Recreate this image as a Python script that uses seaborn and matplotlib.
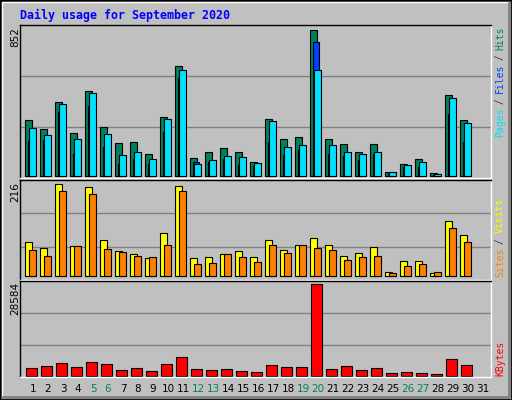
import numpy as np
import seaborn as sns
import matplotlib
matplotlib.use('Agg')
import matplotlib.pyplot as plt
from matplotlib.patches import Rectangle
from matplotlib.lines import Line2D

days = list(range(1, 32))
weekend = [5, 6, 12, 13, 19, 20, 26, 27]

hits = [327, 275, 432, 250, 494, 285, 192, 198, 128, 343, 639, 105, 139, 163, 139, 81,
        331, 215, 226, 852, 215, 186, 139, 186, 23, 70, 99, 17, 470, 327, 0]
files = [205, 211, 374, 130, 409, 170, 72, 101, 72, 259, 569, 81, 81, 101, 66, 60,
         199, 124, 153, 778, 130, 118, 95, 130, 19, 54, 54, 8, 362, 199, 0]
pages = [279, 238, 418, 215, 482, 244, 122, 139, 99, 331, 616, 70, 93, 116, 110, 75,
         319, 168, 180, 616, 180, 139, 128, 139, 23, 64, 81, 12, 453, 308, 0]
visits = [80, 66, 217, 71, 210, 85, 59, 52, 42, 101, 214, 42, 45, 52, 59, 45,
          85, 61, 75, 90, 73, 47, 54, 68, 9, 35, 35, 7, 130, 97, 0]
sites = [61, 49, 200, 71, 193, 64, 57, 47, 45, 75, 200, 28, 31, 52, 45, 33,
         73, 54, 75, 66, 61, 38, 45, 49, 7, 24, 28, 9, 115, 80, 0]
kbytes = [2295, 2920, 3860, 2608, 4172, 3546, 1669, 2295, 1356, 3546, 5736, 1982, 1669,
          1982, 1356, 1043, 3233, 2608, 2608, 28584, 1982, 2920, 1669, 2295, 730, 1043,
          730, 417, 5111, 3233, 0]

GRAY = '#C0C0C0'
sns.set_style('white')
plt.rcParams['font.family'] = ['DejaVu Sans']

W, H = 512, 400
fig = plt.figure(figsize=(5.12, 4.0), dpi=100, facecolor=GRAY)
x = np.array(days)


def px_axes(top, bottom):
    return fig.add_axes([20 / W, 1 - bottom / H, 471 / W, (bottom - top) / H])


def bars(ax, offset, vals, width, color):
    v = np.array(vals)
    m = v > 0
    ax.bar(x[m] + offset, v[m], width=width, color=color, edgecolor='black', linewidth=0.8)


def style(ax, ylo, yhi, label, label_y):
    ax.set_facecolor(GRAY)
    ax.set_xlim(0.13, 31.53)
    ax.set_ylim(ylo, yhi)
    ax.set_yticks([])
    ax.set_xticks([])
    for f in (1 / 3, 2 / 3):
        ax.plot([0, 1], [f, f], transform=ax.transAxes, color='#808080', lw=1, zorder=0)
    for s in ('top', 'left'):
        ax.spines[s].set_color('black')
    for s in ('bottom', 'right'):
        ax.spines[s].set_color('white')
    for s in ax.spines.values():
        s.set_linewidth(1)
    fig.text(15 / W, 1 - label_y / H, label, rotation=90, ha='center', va='top',
             fontsize=7.5, color='black')


def side_label(parts, bottom_y):
    y = bottom_y
    for txt, col in parts:
        fig.text(500 / W, 1 - y / H, txt, rotation=90, ha='center', va='bottom',
                 fontsize=7.0, family='DejaVu Sans Mono', color=col)
        y -= 5.45 * len(txt)


# pages / files / hits
ax1 = px_axes(25, 178)
bars(ax1, -0.28, hits, 0.46, '#00805C')
bars(ax1, -0.14, files, 0.46, '#0040FF')
bars(ax1, -0.01, pages, 0.46, '#00E0FF')
style(ax1, -11.6, 879, '852', 27)
side_label([('Pages', '#00E0FF'), (' / ', '#404040'), ('Files', '#0040FF'),
            (' / ', '#404040'), ('Hits', '#00805C')], 137)

# sites / visits
ax2 = px_axes(180, 280)
bars(ax2, -0.28, visits, 0.46, '#FFFF00')
bars(ax2, -0.01, sites, 0.46, '#FF8000')
style(ax2, -8.7, 227.1, '216', 182)
side_label([('Sites', '#FF8000'), (' / ', '#404040'), ('Visits', '#FFFF00')], 277)

# kbytes
ax3 = px_axes(281, 377)
bars(ax3, -0.1, kbytes, 0.7, '#FF0000')
style(ax3, -407, 29616, '28584', 282)
side_label([('KBytes', '#FF0000')], 376)

for d in days:
    ax3.text(d, -0.12, str(d), transform=ax3.get_xaxis_transform(), ha='center', va='center',
             fontsize=7.5, color='#00805C' if d in weekend else 'black')

fig.text(20 / W, 1 - 15 / H, 'Daily usage for September 2020', ha='left', va='center',
         fontsize=8.4, fontweight='bold', family='DejaVu Sans Mono', color='#0000FF')

# bevelled frame
fig.patches.append(Rectangle((0, 0), 1, 1, transform=fig.transFigure, fill=False,
                             edgecolor='black', linewidth=2))
fig.lines.append(Line2D([2 / W, 2 / W, 1 - 3 / W], [2 / H, 1 - 2 / H, 1 - 2 / H],
                        transform=fig.transFigure, color='white', lw=1))
fig.lines.append(Line2D([2 / W, 1 - 3 / W, 1 - 3 / W], [3 / H, 3 / H, 1 - 2 / H],
                        transform=fig.transFigure, color='#808080', lw=2))

fig.savefig('out.png', dpi=100, facecolor=GRAY)
